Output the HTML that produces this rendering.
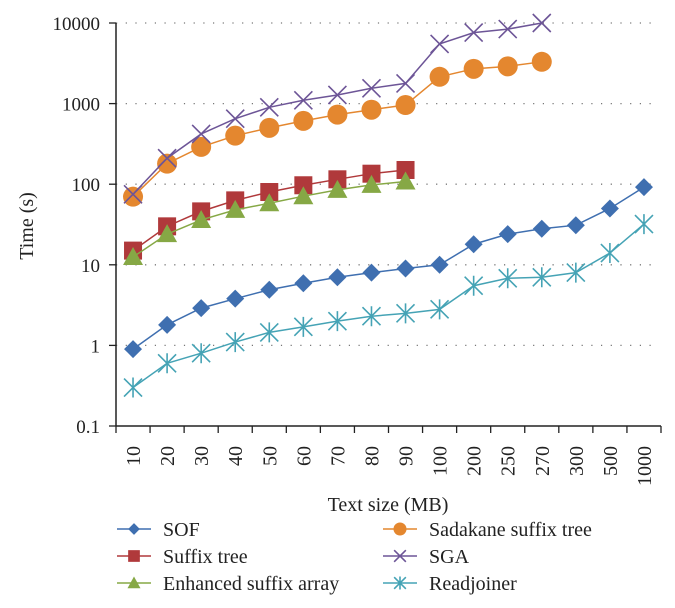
<!DOCTYPE html>
<html><head><meta charset="utf-8"><style>
body{margin:0;background:#fff;}
svg{display:block;font-family:"Liberation Serif",serif;}
</style></head><body>
<svg id="c" width="675" height="608"></svg>
<script>
const categories=["10","20","30","40","50","60","70","80","90","100","200","250","270","300","500","1000"];
const yTicks=[0.1,1,10,100,1000,10000];
const yTickLabels=["0.1","1","10","100","1000","10000"];
const sofValues=[0.9,1.8,2.9,3.8,4.9,5.9,7,8,9,10,18,24,28,31,50,92];
const suffixTreeValues=[15,30,46,63,80,97,115,135,150];
const esaValues=[12.5,24,36,48,58,71,85,98,108];
const sadakaneValues=[70,180,290,400,500,610,730,840,960,2150,2700,2900,3300];
const sgaValues=[75,210,420,650,900,1100,1280,1550,1780,5500,7600,8400,10000];
const readjoinerValues=[0.3,0.6,0.8,1.1,1.45,1.7,2,2.3,2.5,2.8,5.5,6.8,7,8,14,32];
const seriesNames=["SOF","Suffix tree","Enhanced suffix array","Sadakane suffix tree","SGA","Readjoiner"];

const NS="http://www.w3.org/2000/svg";
const svg=document.getElementById('c');
const X0=116,X1=661,Y0=426,Y1=23;
const step=(X1-X0)/categories.length;
function xs(i){return X0+step*(i+0.5);}
function ys(v){return Y0-(Math.log10(v)+1)/5*(Y0-Y1);}
function mk(tag,attrs,parent){const e=document.createElementNS(NS,tag);for(const k in attrs)e.setAttribute(k,attrs[k]);(parent||svg).appendChild(e);return e;}

yTicks.forEach((t,i)=>{
  const y=ys(t);
  if(i>0){const g=mk('line',{x1:X0,x2:657,y1:y,y2:y,stroke:'#777','stroke-dasharray':'1.2,8.5','stroke-width':1.3});
  
  }
  const tk=mk('line',{x1:X0-7,x2:X0,y1:y,y2:y,stroke:'#222','stroke-width':1.3});
  
  
  const tx=mk('text',{x:X0-16,y:y+7,'text-anchor':'end','font-size':19,fill:'#222'});
  tx.textContent=yTickLabels[i];
  
  
});
const ya=mk('line',{x1:X0,x2:X0,y1:Y1,y2:Y0,stroke:'#222','stroke-width':1.5});


const xa=mk('line',{x1:X0,x2:X1,y1:Y0,y2:Y0,stroke:'#222','stroke-width':1.5});


for(let i=0;i<=categories.length;i++){
  const x=X0+step*i;
  const t=mk('line',{x1:x,x2:x,y1:Y0,y2:Y0+7,stroke:'#222','stroke-width':1.3});
  
  
}
categories.forEach((c,i)=>{
  const x=xs(i)+7,y=Y0+20;
  const t=mk('text',{x:x,y:y,'text-anchor':'end','font-size':20,fill:'#222',transform:`rotate(-90 ${x} ${y})`});
  t.textContent=c;
  
  
});
const yt=mk('text',{x:33,y:226,'text-anchor':'middle','font-size':20,fill:'#222',transform:'rotate(-90 33 226)'});
yt.textContent='Time (s)';


const xt=mk('text',{x:388,y:511,'text-anchor':'middle','font-size':20,fill:'#222'});
xt.textContent='Text size (MB)';



function marker(type,x,y,col,g,s){
  s=s||1;
  if(type==='diamond')mk('polygon',{points:`${x},${y-9*s} ${x+9*s},${y} ${x},${y+9*s} ${x-9*s},${y}`,fill:col},g);
  else if(type==='square')mk('rect',{x:x-9*s,y:y-9*s,width:18*s,height:18*s,fill:col},g);
  else if(type==='triangle')mk('polygon',{points:`${x},${y-10*s} ${x+10*s},${y+8*s} ${x-10*s},${y+8*s}`,fill:col},g);
  else if(type==='circle')mk('circle',{cx:x,cy:y,r:10*s,fill:col},g);
  else if(type==='x'){mk('path',{d:`M${x-9*s} ${y-9*s}L${x+9*s} ${y+9*s}M${x+9*s} ${y-9*s}L${x-9*s} ${y+9*s}`,stroke:col,'stroke-width':1.6},g);}
  else if(type==='star'){mk('path',{d:`M${x-9*s} ${y-9*s}L${x+9*s} ${y+9*s}M${x+9*s} ${y-9*s}L${x-9*s} ${y+9*s}M${x} ${y-10*s}L${x} ${y+10*s}`,stroke:col,'stroke-width':1.6},g);}
}
const series=[
 {vals:sofValues,col:'#3f6fb0',m:'diamond',name:'series-sof'},
 {vals:suffixTreeValues,col:'#b0393b',m:'square',name:'series-suffix-tree'},
 {vals:esaValues,col:'#86a845',m:'triangle',name:'series-enhanced-suffix-array'},
 {vals:sadakaneValues,col:'#e4872f',m:'circle',name:'series-sadakane-suffix-tree'},
 {vals:sgaValues,col:'#6d5597',m:'x',name:'series-sga'},
 {vals:readjoinerValues,col:'#45a3b5',m:'star',name:'series-readjoiner'}];
series.forEach(s=>{
  const g=mk('g',{});
  
  
  mk('polyline',{points:s.vals.map((v,i)=>xs(i)+','+ys(v)).join(' '),fill:'none',stroke:s.col,'stroke-width':1.5},g);
  s.vals.forEach((v,i)=>marker(s.m,xs(i),ys(v),s.col,g));
});
const legPos=[[117,529],[117,556],[117,583],[383,529],[383,556],[383,583]];
series.forEach((s,i)=>{
  const [x,y]=legPos[i];
  const g=mk('g',{});
  
  
  mk('line',{x1:x,x2:x+34,y1:y,y2:y,stroke:s.col,'stroke-width':1.5},g);
  marker(s.m,x+17,y,s.col,g,0.65);
  const t=mk('text',{x:x+46,y:y+7,'font-size':20,fill:'#222'},g);
  t.textContent=seriesNames[i];
});
</script>
</body></html>
